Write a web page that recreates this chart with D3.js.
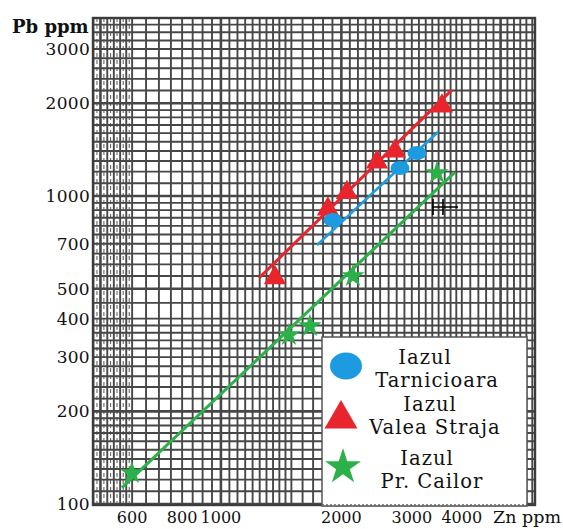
<!DOCTYPE html>
<html>
<head>
<meta charset="utf-8">
<script src="https://cdn.jsdelivr.net/npm/d3@7"></script>
<style>
  html, body { margin: 0; padding: 0; background: #fff; }
  svg { display: block; }
  text { font-family: "DejaVu Serif", "Liberation Serif", serif; fill: #111; }
</style>
</head>
<body>
<svg id="chart" width="563" height="529"></svg>
<script>
// Zn vs Pb (ppm) on log-log paper for three tailings ponds

// Axis tick labels
const xTicks = [600, 800, 1000, 2000, 3000, 4000];
const yTicks = [100, 200, 300, 400, 500, 700, 1000, 2000, 3000];

// Samples: Zn ppm, Pb ppm
const tarnicioara = [
  { zn: 1905, pb: 836 },
  { zn: 2803, pb: 1233 },
  { zn: 3090, pb: 1379 }
];
const valeaStraja = [
  { zn: 1365, pb: 543 },
  { zn: 1851, pb: 907 },
  { zn: 2065, pb: 1026 },
  { zn: 2455, pb: 1289 },
  { zn: 2723, pb: 1400 },
  { zn: 3569, pb: 1960 }
];
const prCailor = [
  { zn: 599, pb: 126 },
  { zn: 1479, pb: 354 },
  { zn: 1669, pb: 378 },
  { zn: 2138, pb: 550 },
  { zn: 3467, pb: 1188 }
];

// Fitted trend lines (end points, Zn ppm / Pb ppm)
const tarnicioaraLine = [{ zn: 1738, pb: 693 }, { zn: 3487, pb: 1613 }];
const valeaStrajaLine = [{ zn: 1245, pb: 542 }, { zn: 3780, pb: 2210 }];
const prCailorLine = [{ zn: 566, pb: 113 }, { zn: 3846, pb: 1196 }];

// Legend entries
const legendNames = [["Iazul", "Tarnicioara"], ["Iazul", "Valea Straja"], ["Iazul", "Pr. Cailor"]];

const colors = { blue: "#1d9be0", red: "#e8242c", green: "#2cb04a" };

const svg = d3.select("#chart");
const plot = { left: 93, top: 18, right: 535, bottom: 505 };

const x = d3.scaleLog().domain([479, 6095]).range([plot.left, plot.right]);
const y = d3.scaleLog().domain([99.3, 3784]).range([plot.bottom, plot.top]);

// ---- log graph-paper rulings ----
const step = (a, b, s) => d3.range(a, b, s);
const xGrid = [].concat(
  step(480, 600, 20), step(600, 1000, 50), step(1000, 1500, 50),
  step(1500, 2500, 100), step(2500, 4000, 125), step(4000, 6095, 200)
).filter(v => v > 479);
const xGridFine = step(490, 600, 20);
const yGrid = [].concat(
  step(100, 200, 10), step(200, 400, 20), step(400, 1000, 50),
  step(1000, 2000, 100), step(2000, 3784, 200)
);
const xMajor = new Set([500, 1000, 2000, 5000]);
const yMajor = new Set([100, 200, 500, 1000, 2000]);

const grid = svg.append("g").attr("class", "paper");
grid.selectAll("line.fine").data(xGridFine).join("line")
  .attr("class", "fine")
  .attr("x1", d => x(d)).attr("x2", d => x(d))
  .attr("y1", plot.top).attr("y2", plot.bottom)
  .attr("stroke", "#666").attr("stroke-width", 1.1)
  .attr("stroke-dasharray", "4,3");
grid.selectAll("line.vx").data(xGrid).join("line")
  .attr("class", "vx")
  .attr("x1", d => x(d)).attr("x2", d => x(d))
  .attr("y1", plot.top).attr("y2", plot.bottom)
  .attr("stroke", "#474747")
  .attr("stroke-width", d => xMajor.has(d) ? 2.6 : 1.9);
grid.selectAll("line.hy").data(yGrid).join("line")
  .attr("class", "hy")
  .attr("x1", plot.left).attr("x2", plot.right)
  .attr("y1", d => y(d)).attr("y2", d => y(d))
  .attr("stroke", "#474747")
  .attr("stroke-width", d => yMajor.has(d) ? 2.6 : 1.9);
grid.append("rect")
  .attr("x", plot.left).attr("y", plot.top)
  .attr("width", plot.right - plot.left).attr("height", plot.bottom - plot.top)
  .attr("fill", "none").attr("stroke", "#3c3c3c").attr("stroke-width", 2.4);

// small hand-drawn cross mark on the paper
const crossAt = { zn: 3631, pb: 921 };
const cx0 = x(crossAt.zn), cy0 = y(crossAt.pb);
svg.append("path")
  .attr("d", `M${cx0 - 12},${cy0 - 8}V${cy0 + 8}M${cx0 - 2},${cy0 - 8}V${cy0 + 8}` +
             `M${cx0 - 13},${cy0}H${cx0 + 13}`)
  .attr("stroke", "#000").attr("stroke-width", 1.6).attr("fill", "none");

// ---- legend box (covers the paper) ----
const lg = { x: 322, y: 337, w: 205, h: 169 };
svg.append("rect")
  .attr("x", lg.x).attr("y", lg.y).attr("width", lg.w).attr("height", lg.h)
  .attr("fill", "#fff").attr("stroke", "#555").attr("stroke-width", 1.5);
svg.append("line")
  .attr("x1", lg.x).attr("x2", lg.x + lg.w).attr("y1", lg.y + lg.h - 1).attr("y2", lg.y + lg.h - 1)
  .attr("stroke", "#666").attr("stroke-width", 1.5).attr("stroke-dasharray", "2,2");

// ---- axes labels ----
svg.append("g").selectAll("text").data(yTicks).join("text")
  .attr("x", 90).attr("y", d => y(d) + 6)
  .attr("text-anchor", "end")
  .style("font-size", "17px").style("letter-spacing", "0.3px")
  .text(d => d);
svg.append("g").selectAll("text").data(xTicks).join("text")
  .attr("x", d => x(d)).attr("y", 523)
  .attr("text-anchor", "middle")
  .style("font-size", "16px")
  .text(d => d);
svg.append("text").attr("x", 12).attr("y", 33)
  .style("font-size", "18px").style("font-weight", "bold")
  .text("Pb ppm");
svg.append("text").attr("x", 561).attr("y", 523).attr("text-anchor", "end")
  .style("font-size", "17.5px")
  .text("Zn ppm");

// ---- trend lines and samples ----
const line = d3.line().x(d => x(d.zn)).y(d => y(d.pb));
const markers = svg.append("g");

markers.append("path").datum(valeaStrajaLine).attr("d", line)
  .attr("stroke", colors.red).attr("stroke-width", 3).attr("fill", "none");
markers.selectAll("path.tri").data(valeaStraja).join("path")
  .attr("class", "tri")
  .attr("d", d3.symbol(d3.symbolTriangle, 215))
  .attr("transform", d => `translate(${x(d.zn)},${y(d.pb)})`)
  .attr("fill", colors.red);

markers.append("path").datum(tarnicioaraLine).attr("d", line)
  .attr("stroke", colors.blue).attr("stroke-width", 2.6).attr("fill", "none");
markers.selectAll("ellipse.dot").data(tarnicioara).join("ellipse")
  .attr("class", "dot")
  .attr("cx", d => x(d.zn)).attr("cy", d => y(d.pb))
  .attr("rx", 9.5).attr("ry", 7)
  .attr("fill", colors.blue);

markers.append("path").datum(prCailorLine).attr("d", line)
  .attr("stroke", colors.green).attr("stroke-width", 3).attr("fill", "none");
markers.selectAll("path.star").data(prCailor).join("path")
  .attr("class", "star")
  .attr("d", d3.symbol(d3.symbolStar, 170))
  .attr("transform", d => `translate(${x(d.zn)},${y(d.pb)})`)
  .attr("fill", colors.green);

// ---- legend entries (two-line labels) ----
const lgItems = [
  { sym: "circle", color: colors.blue, mx: 346, my: 366, tx: [425, 437], ty: 364 },
  { sym: "triangle", color: colors.red, mx: 341, my: 419, tx: [430, 435], ty: 411 },
  { sym: "star", color: colors.green, mx: 343, my: 467, tx: [427, 432], ty: 465 }
];
lgItems.forEach((it, i) => {
  if (it.sym === "circle") {
    svg.append("ellipse").attr("cx", it.mx).attr("cy", it.my)
      .attr("rx", 16).attr("ry", 13.5).attr("fill", it.color);
  } else if (it.sym === "triangle") {
    svg.append("path").attr("d", d3.symbol(d3.symbolTriangle, 470))
      .attr("transform", `translate(${it.mx},${it.my})`).attr("fill", it.color);
  } else {
    svg.append("path").attr("d", d3.symbol(d3.symbolStar, 400))
      .attr("transform", `translate(${it.mx},${it.my})`).attr("fill", it.color);
  }
  const label = svg.append("text")
    .attr("y", it.ty)
    .attr("text-anchor", "middle")
    .style("font-size", "19.5px")
    .style("letter-spacing", "1px");
  legendNames[i].forEach((t, k) => {
    label.append("tspan")
      .attr("x", it.tx[k])
      .attr("dy", k === 0 ? 0 : 23)
      .text(t);
  });
});
</script>
</body>
</html>
